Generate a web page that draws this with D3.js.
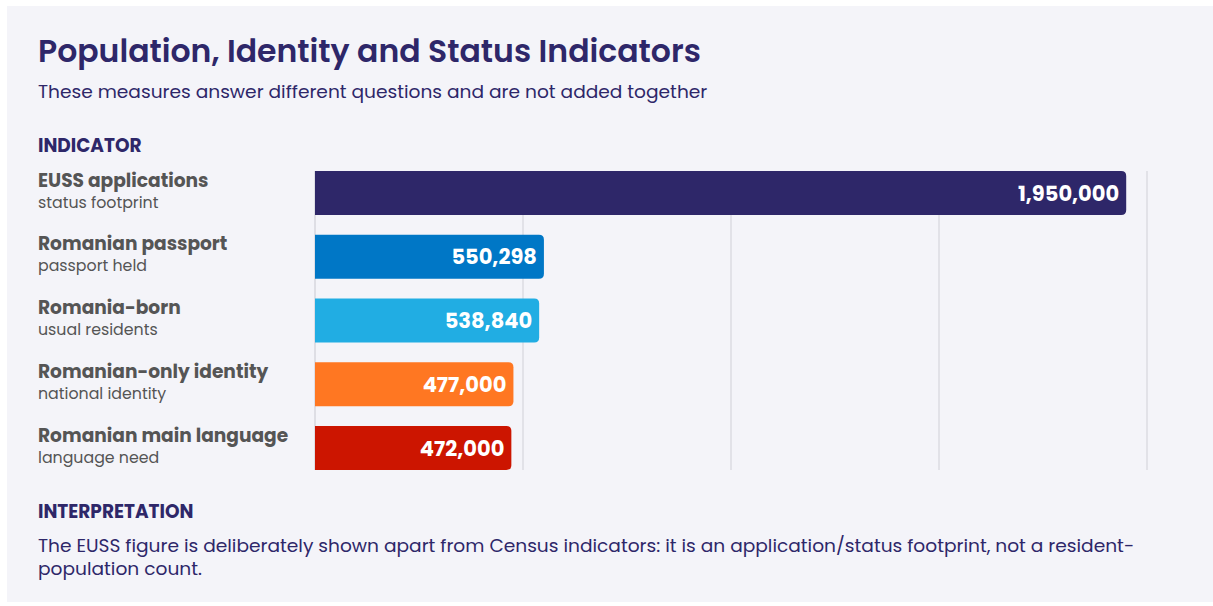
<!DOCTYPE html>
<html lang="en">
<head>
  <meta charset="utf-8">
  <title>Population, Identity and Status Indicators</title>
  <script src="https://d3js.org/d3.v7.min.js"></script>
  <style>
    body { margin: 0; background: #fff; }
    svg { display: block; font-family: Poppins, "Noto Sans", sans-serif; }
  </style>
</head>
<body>
  <script>
    // indicator data
    var labels = ['EUSS applications', 'Romanian passport', 'Romania-born', 'Romanian-only identity', 'Romanian main language'];
    var sublabels = ['status footprint', 'passport held', 'usual residents', 'national identity', 'language need'];
    var values = [1950000, 550298, 538840, 477000, 472000];
    var colors = ['#2e2769', '#0077c6', '#21ade3', '#ff7722', '#cc1500'];
    var gridTicks = [500000, 1000000, 1500000, 2000000];

    var w = 1213, h = 606;
    var navy = '#2e2769', gray = '#555555';

    var rows = labels.map(function (d, i) {
      return { label: d, sub: sublabels[i], value: values[i], color: colors[i] };
    });

    var svg = d3.select('body').append('svg')
      .attr('width', w)
      .attr('height', h);

    // card
    svg.append('rect')
      .attr('x', 7).attr('y', 6)
      .attr('width', w - 7).attr('height', 596)
      .attr('fill', '#f4f4f9');

    svg.append('text')
      .attr('x', 38).attr('y', 62)
      .attr('fill', navy)
      .style('font-size', '31.5px').style('font-weight', 600)
      .text('Population, Identity and Status Indicators');

    svg.append('text')
      .attr('x', 38).attr('y', 98)
      .attr('fill', navy)
      .style('font-size', '18.6px')
      .text('These measures answer different questions and are not added together');

    svg.append('text')
      .attr('x', 38).attr('y', 152)
      .attr('fill', navy)
      .style('font-size', '18.5px').style('font-weight', 700)
      .text('INDICATOR');

    var x = d3.scaleLinear().domain([0, 2000000]).range([315, 1147]);
    var y = d3.scaleBand().domain(labels).range([171, 470]).paddingInner(0.31).paddingOuter(0);

    // grid
    svg.append('g').selectAll('line')
      .data(gridTicks)
      .enter().append('line')
      .attr('x1', function (d) { return x(d); })
      .attr('x2', function (d) { return x(d); })
      .attr('y1', 171).attr('y2', 470)
      .attr('stroke', '#dcdce2').attr('stroke-width', 1.5);

    svg.append('line')
      .attr('x1', x(0)).attr('x2', x(0))
      .attr('y1', 171).attr('y2', 470)
      .attr('stroke', '#c8c8d0').attr('stroke-width', 1);

    var r = 5;
    var row = svg.append('g').selectAll('g')
      .data(rows)
      .enter().append('g');

    // bars: square left edge, rounded right corners
    row.append('path')
      .attr('d', function (d) {
        var x0 = x(0), x1 = x(d.value), y0 = y(d.label), bh = y.bandwidth();
        return 'M' + x0 + ',' + y0 + 'H' + (x1 - r) + 'Q' + x1 + ',' + y0 + ' ' + x1 + ',' + (y0 + r) +
          'V' + (y0 + bh - r) + 'Q' + x1 + ',' + (y0 + bh) + ' ' + (x1 - r) + ',' + (y0 + bh) + 'H' + x0 + 'Z';
      })
      .attr('fill', function (d) { return d.color; });

    row.append('text')
      .attr('x', function (d) { return x(d.value) - 7; })
      .attr('y', function (d) { return y(d.label) + y.bandwidth() / 2; })
      .attr('dy', '0.36em')
      .attr('text-anchor', 'end')
      .attr('fill', '#fff')
      .style('font-size', '21px').style('font-weight', 700)
      .text(function (d) { return d3.format(',')(d.value); });

    row.append('text')
      .attr('x', 38)
      .attr('y', function (d) { return y(d.label) + 15.5; })
      .attr('fill', gray)
      .style('font-size', '18.6px').style('font-weight', 700)
      .text(function (d) { return d.label; });

    row.append('text')
      .attr('x', 38)
      .attr('y', function (d) { return y(d.label) + 36.5; })
      .attr('fill', gray)
      .style('font-size', '15.8px')
      .text(function (d) { return d.sub; });

    svg.append('text')
      .attr('x', 38).attr('y', 518)
      .attr('fill', navy)
      .style('font-size', '18.5px').style('font-weight', 700)
      .text('INTERPRETATION');

    var note = svg.append('text')
      .attr('fill', navy)
      .style('font-size', '18.6px');
    note.append('tspan').attr('x', 38).attr('y', 552)
      .text('The EUSS figure is deliberately shown apart from Census indicators: it is an application/status footprint, not a resident-');
    note.append('tspan').attr('x', 38).attr('y', 575)
      .text('population count.');
  </script>
</body>
</html>
